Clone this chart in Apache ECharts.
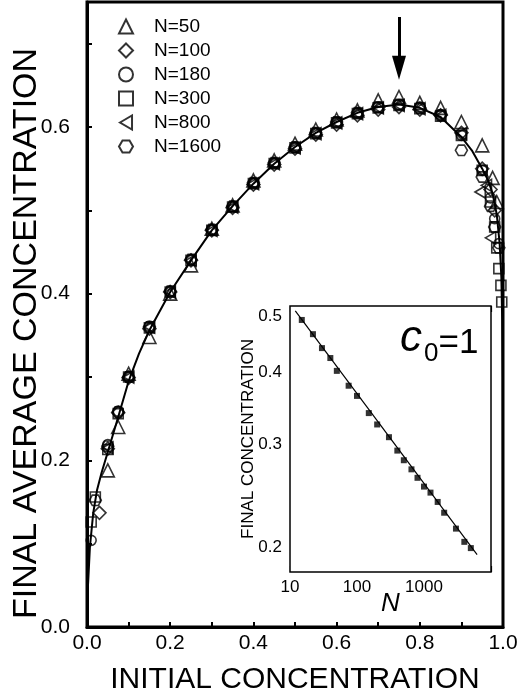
<!DOCTYPE html>
<html>
<head>
<meta charset="utf-8">
<script src="https://cdn.jsdelivr.net/npm/echarts@6/dist/echarts.min.js"></script>
<style>
  html, body { margin: 0; padding: 0; background: #fff; }
  #chart { width: 520px; height: 700px; }
</style>
</head>
<body>
<div id="chart"></div>
<script>
// main panel: final average concentration vs initial concentration
var curveX = [0, 0.003, 0.007, 0.015, 0.024, 0.035, 0.05, 0.075, 0.1, 0.125, 0.15, 0.2, 0.25, 0.3, 0.35, 0.4, 0.45, 0.5, 0.55, 0.6, 0.65, 0.7, 0.75, 0.8, 0.85, 0.9, 0.925, 0.95, 0.965, 0.975, 0.985, 0.992, 0.996, 0.998, 0.999, 1.0];
var curveY = [0.03, 0.056, 0.096, 0.137, 0.164, 0.185, 0.21, 0.252, 0.295, 0.328, 0.356, 0.402, 0.44, 0.476, 0.505, 0.532, 0.556, 0.576, 0.593, 0.606, 0.617, 0.624, 0.627, 0.623, 0.612, 0.588, 0.572, 0.55, 0.535, 0.52, 0.495, 0.46, 0.42, 0.37, 0.3, 0.0];

var n50 = [[0.05,0.188],[0.075,0.24],[0.1,0.304],[0.15,0.348],[0.2,0.4],[0.25,0.434],[0.3,0.478],[0.35,0.506],[0.4,0.536],[0.45,0.56],[0.5,0.58],[0.55,0.597],[0.6,0.609],[0.65,0.62],[0.7,0.632],[0.75,0.636],[0.8,0.629],[0.85,0.623],[0.9,0.606],[0.95,0.578],[0.975,0.539],[0.985,0.51]];
var n100 = [[0.03,0.137],[0.05,0.214],[0.075,0.257],[0.1,0.299],[0.15,0.358],[0.2,0.402],[0.25,0.44],[0.3,0.476],[0.35,0.503],[0.4,0.531],[0.45,0.555],[0.5,0.574],[0.55,0.591],[0.6,0.603],[0.65,0.614],[0.7,0.621],[0.75,0.624],[0.8,0.621],[0.85,0.614],[0.9,0.593],[0.95,0.55],[0.97,0.525],[0.98,0.5]];
var n180 = [[0.01,0.104],[0.05,0.219],[0.075,0.259],[0.1,0.301],[0.15,0.361],[0.2,0.403],[0.25,0.441],[0.3,0.477],[0.35,0.505],[0.4,0.533],[0.45,0.557],[0.5,0.576],[0.55,0.593],[0.6,0.606],[0.65,0.617],[0.7,0.624],[0.75,0.627],[0.8,0.624],[0.85,0.615],[0.9,0.59],[0.95,0.548],[0.97,0.515],[0.98,0.49],[0.99,0.46]];
var n300 = [[0.01,0.126],[0.02,0.156],[0.05,0.213],[0.075,0.256],[0.1,0.3],[0.15,0.359],[0.2,0.402],[0.25,0.44],[0.3,0.476],[0.35,0.504],[0.4,0.532],[0.45,0.556],[0.5,0.575],[0.55,0.592],[0.6,0.605],[0.65,0.616],[0.7,0.623],[0.75,0.626],[0.8,0.622],[0.85,0.613],[0.9,0.59],[0.95,0.548],[0.97,0.51],[0.98,0.48],[0.985,0.455],[0.99,0.43],[0.995,0.41],[0.997,0.39]];
var n800 = [[0.05,0.215],[0.1,0.3],[0.15,0.36],[0.2,0.402],[0.25,0.44],[0.3,0.476],[0.35,0.504],[0.4,0.532],[0.45,0.556],[0.5,0.575],[0.55,0.592],[0.6,0.605],[0.65,0.616],[0.7,0.623],[0.75,0.626],[0.8,0.622],[0.85,0.614],[0.9,0.592],[0.945,0.522],[0.96,0.53],[0.97,0.467]];
var n1600 = [[0.02,0.152],[0.05,0.217],[0.075,0.258],[0.1,0.3],[0.15,0.36],[0.2,0.403],[0.25,0.441],[0.3,0.477],[0.35,0.505],[0.4,0.533],[0.45,0.557],[0.5,0.576],[0.55,0.593],[0.6,0.606],[0.65,0.617],[0.7,0.624],[0.75,0.627],[0.8,0.623],[0.85,0.614],[0.9,0.572],[0.95,0.54],[0.97,0.505],[0.98,0.48],[0.99,0.455]];

var legendNames = ['N=50', 'N=100', 'N=180', 'N=300', 'N=800', 'N=1600'];
var xLabels = [0, 0.2, 0.4, 0.6, 0.8, 1.0];
var yLabels = [0, 0.2, 0.4, 0.6];
var arrowX = 0.75;
var arrowFrom = 0.732;
var arrowTo = 0.671;

// inset: c0 = 1, final concentration vs N (log-log)
var insetN = [15, 22, 30, 40, 50, 75, 100, 150, 200, 300, 400, 500, 650, 800, 1000, 1250, 1600, 2000, 3000, 4000, 5000];
var insetC = [0.492, 0.465, 0.44, 0.423, 0.402, 0.379, 0.364, 0.34, 0.325, 0.309, 0.293, 0.282, 0.272, 0.263, 0.254, 0.248, 0.239, 0.229, 0.215, 0.204, 0.199];
var fitN = [12, 6200];
var fitC = [0.51, 0.194];
var insetXMajor = [10, 100, 1000, 10000];
var insetXMinor = [20, 30, 40, 50, 60, 70, 80, 90, 200, 300, 400, 500, 600, 700, 800, 900, 2000, 3000, 4000, 5000, 6000, 7000, 8000, 9000];
var insetXLabels = [10, 100, 1000];
var insetYLabels = [0.2, 0.3, 0.4, 0.5];

var font = 'Liberation Sans, Arial, sans-serif';
var symbols = ['triangle', 'diamond', 'circle', 'rect',
  'path://M0,50 L86,0 L86,100 Z',
  'path://M25,0 L75,0 L100,43 L75,86 L25,86 L0,43 Z'];
var symbolSizes = [13, 13, 10, 10, 12, 12];
var pointSets = [n50, n100, n180, n300, n800, n1600];

var chart = echarts.init(document.getElementById('chart'));

var scatterSeries = pointSets.map(function (pts, i) {
  return {
    name: legendNames[i],
    type: 'scatter',
    xAxisIndex: 0,
    yAxisIndex: 0,
    symbol: symbols[i],
    symbolSize: symbolSizes[i],
    symbolKeepAspect: true,
    itemStyle: { color: 'rgba(255,255,255,0)', borderColor: '#000', borderWidth: 1.6 },
    data: pts,
    z: 3
  };
});

var curveData = curveX.map(function (x, i) { return [x, curveY[i]]; });
var insetData = insetN.map(function (n, i) { return [n, insetC[i]]; });
var fitData = fitN.map(function (n, i) { return [n, fitC[i]]; });

function insetXAxis(pos, ticks, len, labels) {
  var axis = {
    type: 'log', gridIndex: 1, position: pos, min: 10, max: 10000,
    axisLine: { show: false },
    axisTick: { inside: true, length: len, customValues: ticks, lineStyle: { color: '#000', width: 1.2 } },
    axisLabel: { show: false },
    splitLine: { show: false },
    minorTick: { show: false }
  };
  if (labels) {
    axis.axisLabel = {
      customValues: insetXLabels, color: '#000', fontSize: 17, fontFamily: font, margin: 7,
      formatter: function (v) { return String(Math.round(v)); }
    };
    axis.name = 'N';
    axis.nameLocation = 'middle';
    axis.nameGap = 19;
    axis.nameMoveOverlap = false;
    axis.nameTextStyle = { fontSize: 26, fontStyle: 'italic', color: '#000', fontFamily: font };
  }
  return axis;
}

var option = {
  animation: false,
  backgroundColor: '#fff',
  textStyle: { fontFamily: font, color: '#000' },
  grid: [
    { left: 87, right: 17, top: 2, bottom: 73, show: true, borderColor: '#000', borderWidth: 3, containLabel: false, outerBoundsMode: 'none' },
    { left: 290, right: 29, top: 306, bottom: 128, show: true, borderColor: '#000', borderWidth: 1.5, backgroundColor: '#fff', containLabel: false, outerBoundsMode: 'none', z: 5 }
  ],
  legend: {
    data: legendNames,
    orient: 'vertical',
    left: 113,
    top: 12,
    itemWidth: 14,
    itemHeight: 14,
    itemGap: 5,
    symbolKeepAspect: true,
    selectedMode: false,
    textStyle: { fontSize: 19, color: '#000', fontFamily: font, padding: [0, 0, 0, 16] }
  },
  title: {
    text: '{c|c}{s|0}{e|=1}',
    left: 395,
    top: 312,
    textStyle: {
      fontWeight: 'normal',
      rich: {
        c: { fontSize: 44, fontStyle: 'italic', fontWeight: 'normal', fontFamily: font, color: '#000', verticalAlign: 'bottom', lineHeight: 44 },
        s: { fontSize: 26, fontWeight: 'normal', fontFamily: font, color: '#000', verticalAlign: 'bottom', lineHeight: 26, padding: [0, 0, -6, 2] },
        e: { fontSize: 35, fontWeight: 'normal', fontFamily: font, color: '#000', verticalAlign: 'bottom', lineHeight: 35 }
      }
    }
  },
  xAxis: [
    {
      type: 'value', gridIndex: 0, min: 0, max: 1, interval: 0.1,
      name: 'INITIAL CONCENTRATION', nameLocation: 'middle', nameGap: 38, nameMoveOverlap: false,
      nameTextStyle: { fontSize: 30, color: '#000', fontFamily: font },
      axisLine: { show: true, lineStyle: { color: '#000', width: 3 } },
      axisTick: { inside: true, length: 5, lineStyle: { color: '#000', width: 2 } },
      axisLabel: {
        customValues: xLabels, color: '#000', fontSize: 21, fontFamily: font, margin: 6,
        formatter: function (v) { return v.toFixed(1); }
      },
      splitLine: { show: false }
    },
    insetXAxis('bottom', insetXMajor, 6, true),
    insetXAxis('bottom', insetXMinor, 3, false),
    insetXAxis('top', insetXMajor, 6, false),
    insetXAxis('top', insetXMinor, 3, false)
  ],
  yAxis: [
    {
      type: 'value', gridIndex: 0, min: 0, max: 0.75, interval: 0.1,
      name: 'FINAL AVERAGE CONCENTRATION', nameLocation: 'middle', nameGap: 43, nameMoveOverlap: false,
      nameTextStyle: { fontSize: 34, color: '#000', fontFamily: font, padding: [0, 38, 0, 0] },
      axisLine: { show: true, lineStyle: { color: '#000', width: 3 } },
      axisTick: { inside: true, length: 5, lineStyle: { color: '#000', width: 2 } },
      axisLabel: {
        customValues: yLabels, color: '#000', fontSize: 21, fontFamily: font, margin: 17,
        formatter: function (v) { return v.toFixed(1); }
      },
      splitLine: { show: false }
    },
    {
      type: 'log', gridIndex: 1, min: 0.181, max: 0.52,
      name: 'FINAL CONCENTRATION', nameLocation: 'middle', nameGap: 33, nameMoveOverlap: false,
      nameTextStyle: { fontSize: 17, color: '#000', fontFamily: font },
      axisLine: { show: false },
      axisTick: { inside: true, length: 6, customValues: insetYLabels, lineStyle: { color: '#000', width: 1.2 } },
      axisLabel: {
        customValues: insetYLabels, color: '#000', fontSize: 17, fontFamily: font, margin: 8,
        formatter: function (v) { return v.toFixed(1); }
      },
      splitLine: { show: false },
      minorTick: { show: false }
    },
    {
      type: 'log', gridIndex: 1, position: 'right', min: 0.181, max: 0.52,
      axisLine: { show: false },
      axisTick: { inside: true, length: 6, customValues: insetYLabels, lineStyle: { color: '#000', width: 1.2 } },
      axisLabel: { show: false },
      splitLine: { show: false }
    }
  ],
  series: [
    {
      name: 'curve',
      type: 'line',
      xAxisIndex: 0,
      yAxisIndex: 0,
      data: curveData,
      showSymbol: false,
      symbol: 'none',
      lineStyle: { color: '#000', width: 2 },
      z: 2,
      markLine: {
        silent: true,
        symbol: ['none', 'triangle'],
        label: { show: false },
        lineStyle: { color: '#000', width: 3, type: 'solid' },
        data: [[
          { coord: [arrowX, arrowFrom], symbol: 'none' },
          { coord: [arrowX, arrowTo], symbol: 'triangle', symbolSize: [14, 24], itemStyle: { color: '#000' } }
        ]]
      }
    }
  ].concat(scatterSeries).concat([
    {
      name: 'fit',
      type: 'line',
      xAxisIndex: 1,
      yAxisIndex: 1,
      data: fitData,
      symbol: 'none',
      lineStyle: { color: '#000', width: 1.2 },
      z: 6
    },
    {
      name: 'c0=1',
      type: 'scatter',
      xAxisIndex: 1,
      yAxisIndex: 1,
      data: insetData,
      symbol: 'rect',
      symbolSize: 6,
      itemStyle: { color: '#000' },
      z: 7
    }
  ])
};

chart.setOption(option);
</script>
</body>
</html>
